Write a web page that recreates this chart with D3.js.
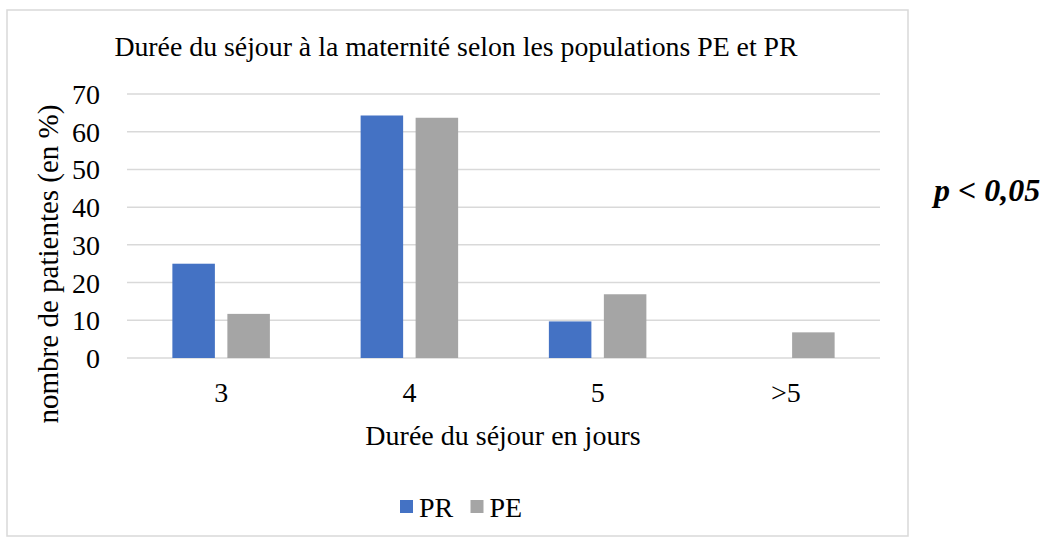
<!DOCTYPE html>
<html>
<head>
<meta charset="utf-8">
<script src="https://cdn.jsdelivr.net/npm/d3@7"></script>
<style>
  body { margin: 0; background: #fff; }
  text { font-family: "Liberation Serif", "Times New Roman", serif; fill: #000; }
</style>
</head>
<body>
<script>
var categories = ["3", "4", "5", ">5"];
var series = ["PR", "PE"];
var valuesPR = [25, 64.3, 9.7, 0];
var valuesPE = [11.7, 63.7, 16.9, 6.8];
var yTicks = [0, 10, 20, 30, 40, 50, 60, 70];
var colors = { "PR": "#4472C4", "PE": "#A5A5A5" };

var svg = d3.select("body").append("svg").attr("width", 1043).attr("height", 539);

// cadre du graphique
svg.append("rect")
    .attr("x", 7).attr("y", 10).attr("width", 901).attr("height", 526)
    .attr("fill", "#fff").attr("stroke", "#d9d9d9").attr("stroke-width", 1.5);

var x = d3.scaleBand().domain(categories).range([127, 880]);
var xInner = d3.scaleBand().domain(series).range([0, x.bandwidth()])
    .paddingInner(0.227).paddingOuter(0.825);
var y = d3.scaleLinear().domain([0, 70]).range([358, 94]);

// grille
svg.append("g").selectAll("line")
    .data(yTicks)
  .enter().append("line")
    .attr("x1", 127).attr("x2", 880)
    .attr("y1", d => y(d)).attr("y2", d => y(d))
    .attr("stroke", "#d9d9d9").attr("stroke-width", 1.5);

var yAxis = svg.append("g")
    .attr("transform", "translate(100,0)")
    .call(d3.axisLeft(y).tickValues(yTicks).tickSize(0).tickPadding(0));
yAxis.select(".domain").remove();
yAxis.selectAll("text").style("font-size", "28px").attr("dy", "0.34em");

var xAxis = svg.append("g")
    .attr("transform", "translate(0,358)")
    .call(d3.axisBottom(x).tickSize(0).tickPadding(24));
xAxis.select(".domain").remove();
xAxis.selectAll("text").style("font-size", "28px");

var rows = categories.map((c, i) => ({ cat: c, PR: valuesPR[i], PE: valuesPE[i] }));

svg.append("g").selectAll("g")
    .data(rows)
  .enter().append("g")
    .attr("transform", d => "translate(" + x(d.cat) + ",0)")
  .selectAll("rect")
    .data(d => series.map(s => ({ key: s, value: d[s] })))
  .enter().append("rect")
    .attr("x", d => xInner(d.key))
    .attr("width", xInner.bandwidth())
    .attr("y", d => y(d.value))
    .attr("height", d => y(0) - y(d.value))
    .attr("fill", d => colors[d.key]);

svg.append("text")
    .attr("x", 456).attr("y", 56)
    .attr("text-anchor", "middle")
    .style("font-size", "27.8px")
    .text("Durée du séjour à la maternité selon les populations PE et PR");

svg.append("text")
    .attr("transform", "translate(58,264) rotate(-90)")
    .attr("text-anchor", "middle")
    .style("font-size", "29px")
    .text("nombre de patientes (en %)");

svg.append("text")
    .attr("x", 503).attr("y", 445)
    .attr("text-anchor", "middle")
    .style("font-size", "28px")
    .text("Durée du séjour en jours");

// légende
var legend = svg.append("g").selectAll("g")
    .data(series)
  .enter().append("g")
    .attr("transform", (d, i) => "translate(" + (400 + i * 70.5) + ",500)");
legend.append("rect").attr("width", 13).attr("height", 13).attr("fill", d => colors[d]);
legend.append("text").attr("x", 19).attr("y", 17).style("font-size", "28px").text(d => d);

svg.append("text")
    .attr("x", 934).attr("y", 201)
    .style("font-size", "32px").style("font-weight", "bold").style("font-style", "italic")
    .text("p < 0,05");
</script>
</body>
</html>
